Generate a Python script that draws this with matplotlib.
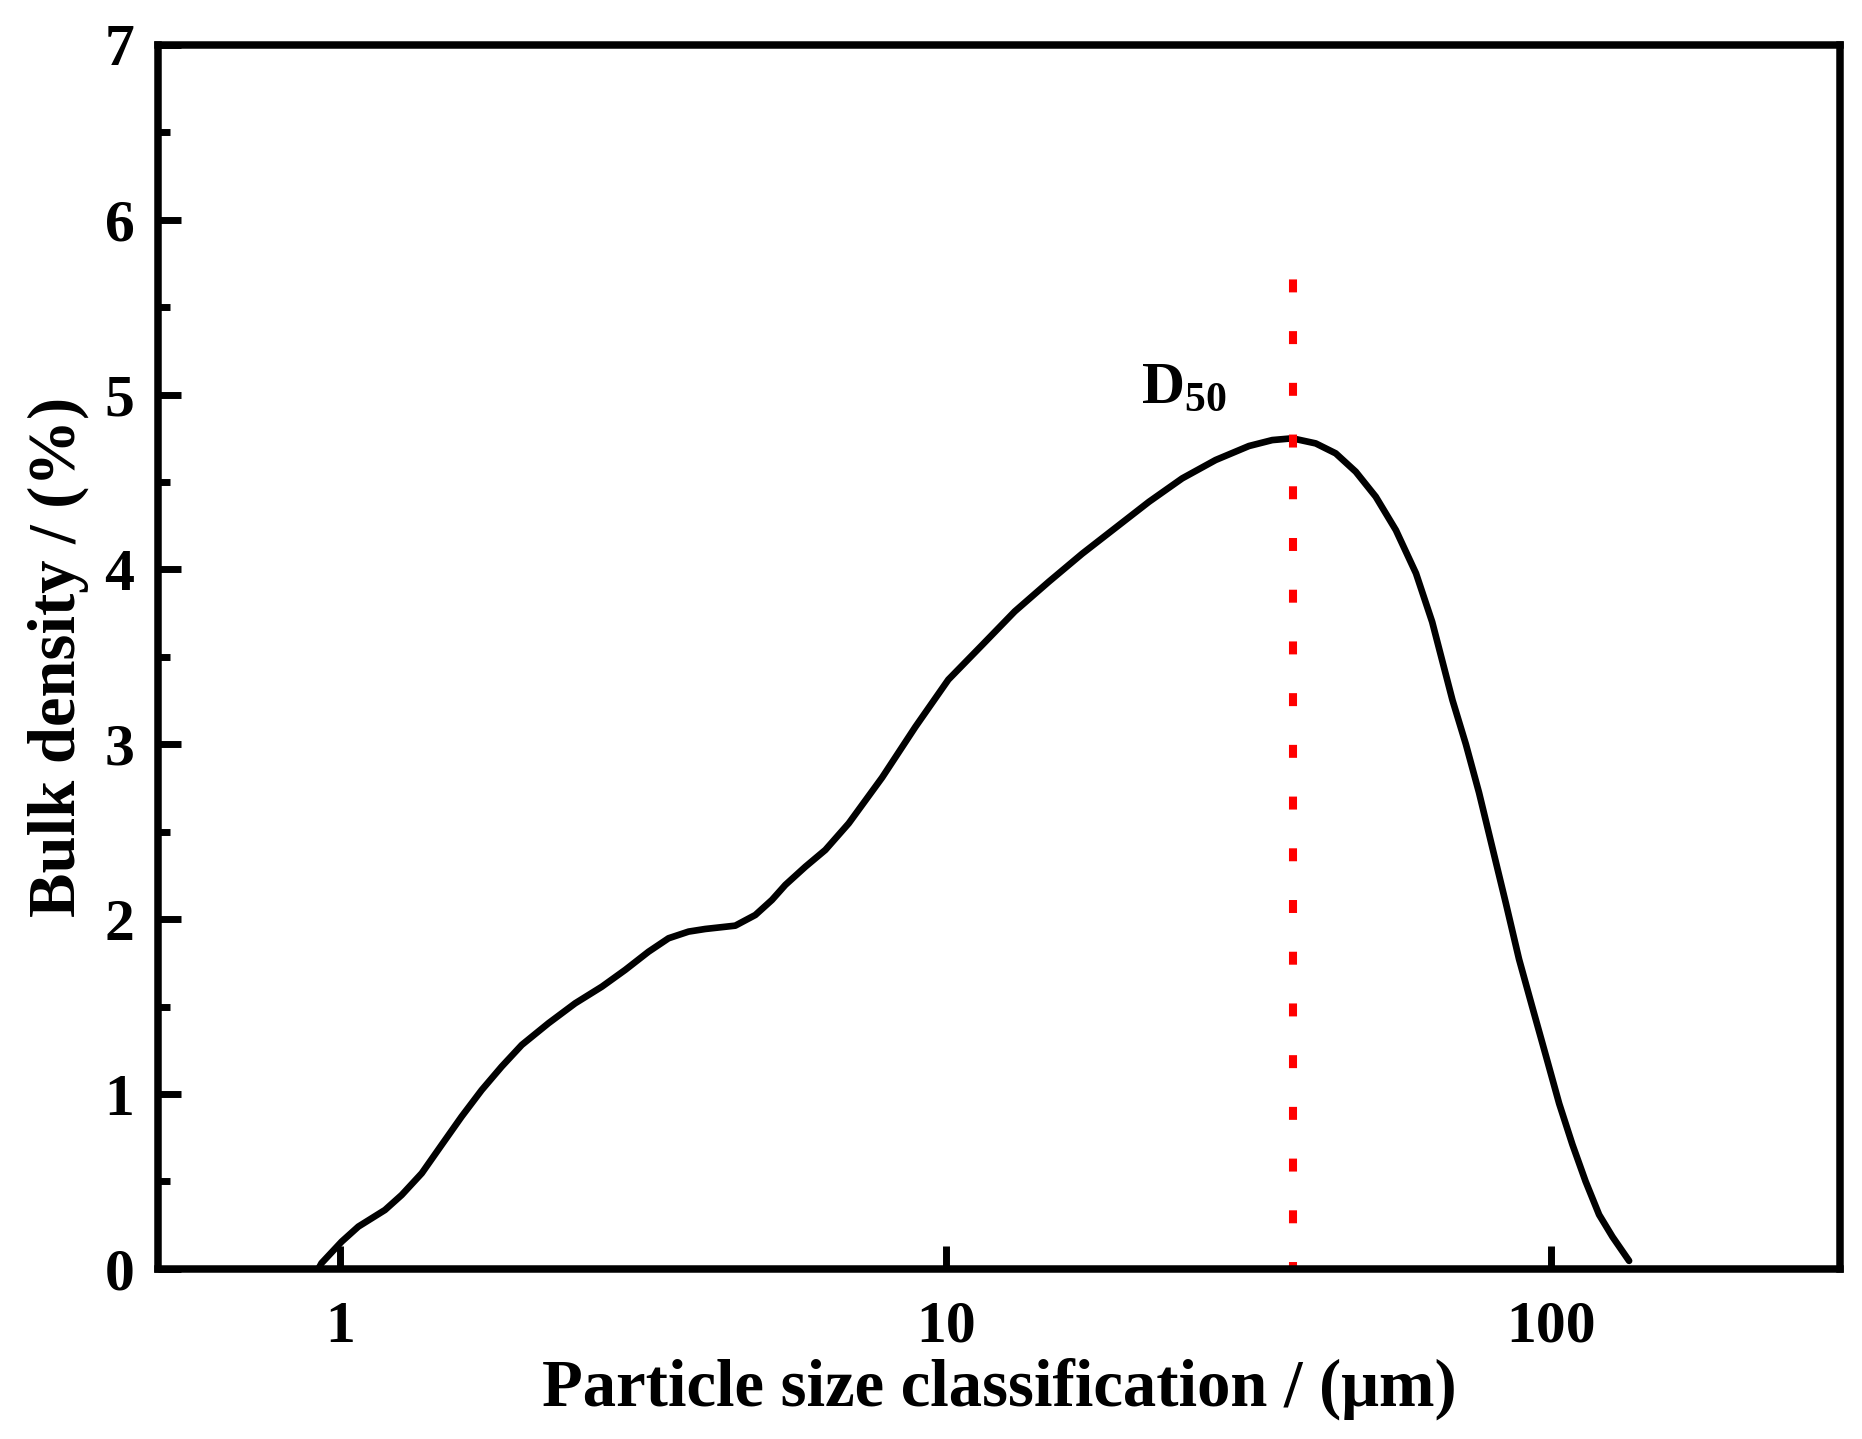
import matplotlib
matplotlib.use("Agg")
import matplotlib.pyplot as plt
from matplotlib.ticker import FixedLocator, NullLocator, MultipleLocator

# particle size (um) and bulk density (%)
size_um = [0.920, 0.931, 1.005, 1.071, 1.185, 1.263, 1.363, 1.470, 1.586, 1.712,
           1.847, 1.994, 2.207, 2.443, 2.704, 2.955, 3.229, 3.485, 3.760, 4.006,
           4.491, 4.847, 5.163, 5.433, 5.863, 6.326, 6.914, 7.85, 8.91, 10.1,
           11.5, 13.0, 14.8, 16.8, 19.1, 21.66, 24.58, 27.91, 31.68, 34.62,
           37.36, 40.84, 44.07, 47.56, 51.32, 55.4, 59.8, 63.6, 68.7,
           72.3, 76.0, 80.0, 84.2, 88.5, 93.1, 98.0, 103.1, 108.4, 114.0,
           120.0, 126.3, 134.5]
density = [0.0, 0.033, 0.156, 0.242, 0.337, 0.423, 0.547, 0.709, 0.871, 1.023,
           1.157, 1.281, 1.405, 1.519, 1.614, 1.710, 1.814, 1.891, 1.929, 1.944,
           1.963, 2.024, 2.110, 2.196, 2.300, 2.396, 2.548, 2.81, 3.10, 3.37,
           3.57, 3.76, 3.93, 4.09, 4.24, 4.387, 4.521, 4.626, 4.706, 4.740,
           4.750, 4.721, 4.664, 4.559, 4.416, 4.225, 3.978, 3.700, 3.253,
           3.000, 2.724, 2.406, 2.089, 1.771, 1.496, 1.220, 0.945, 0.712, 0.500,
           0.310, 0.183, 0.046]

d50 = 37.5
d50_span = [-0.037, 5.70]
x_ticks = [1, 10, 100]
x_tick_labels = ["1", "10", "100"]
y_ticks = [0, 1, 2, 3, 4, 5, 6, 7]

plt.rcParams['font.family'] = ['Liberation Serif', 'DejaVu Serif']
plt.rcParams['font.weight'] = 'bold'
plt.rcParams['mathtext.fontset'] = 'custom'
plt.rcParams['mathtext.rm'] = 'Liberation Serif:bold'
plt.rcParams['mathtext.bf'] = 'Liberation Serif:bold'

fig = plt.figure(figsize=(18.62, 14.39), dpi=100)
ax = fig.add_axes([0.0849, 0.1182, 0.9033, 0.8506])

ax.plot(size_um, density, color='black', lw=4.8,
        solid_joinstyle='round', solid_capstyle='round')
ax.plot([d50, d50], d50_span, color='#ff0000', lw=5.8,
        dashes=(1.61, 4.81), dash_capstyle='butt')
ax.text(21.0, 4.95, r'$\mathbf{D_{50}}$', fontsize=43, ha='left', va='baseline')

ax.set_xscale('log')
ax.set_xlim(0.5, 300)
ax.set_ylim(0, 7)
ax.xaxis.set_major_locator(FixedLocator(x_ticks))
ax.xaxis.set_minor_locator(NullLocator())
ax.set_xticklabels(x_tick_labels)
ax.yaxis.set_major_locator(FixedLocator(y_ticks))
ax.yaxis.set_minor_locator(MultipleLocator(0.5))

for s in ax.spines.values():
    s.set_linewidth(5.4)
ax.tick_params(which='major', direction='in', length=16.5, width=5,
               labelsize=43, top=False, right=False)
ax.tick_params(axis='y', which='major', pad=17)
ax.tick_params(axis='x', which='major', pad=23)
ax.tick_params(which='minor', direction='in', length=8.6, width=5,
               top=False, right=False)

ax.set_xlabel('Particle size classification / (μm)', fontsize=48,
              fontweight='bold', labelpad=2)
ax.set_ylabel('Bulk density / (%)', fontsize=48, fontweight='bold', labelpad=11)

fig.savefig('out.png', dpi=100)
